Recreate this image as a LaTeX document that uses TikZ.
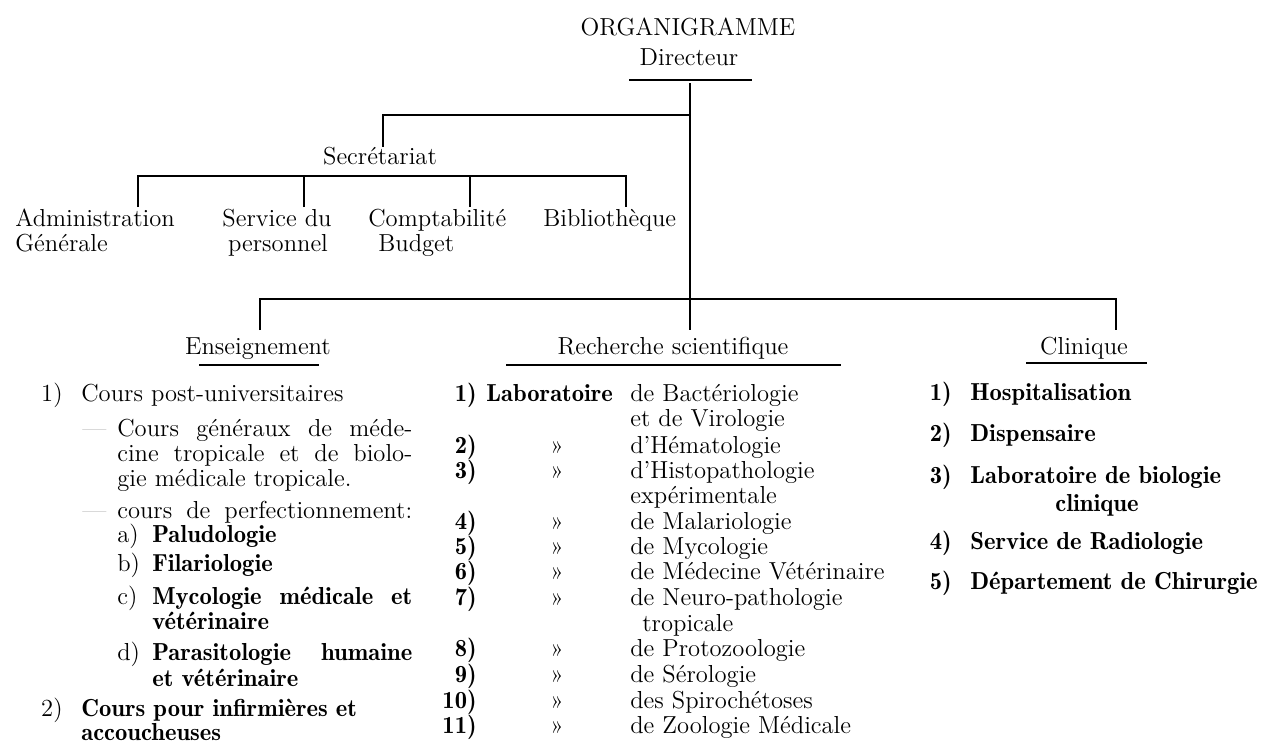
\documentclass[tikz,border=0pt]{standalone}
\usepackage{fontspec}
\newfontfamily\demifont{lmromandemi10-regular.otf}[Ligatures=TeX]

\newcommand\orgsize{\fontsize{14}{16}\selectfont}
\newcommand\spread[2]{\makebox[#1][s]{#2}}

\tikzset{
  every node/.style={inner sep=0pt, font=\orgsize},
  lft/.style={anchor=base west},
  rgt/.style={anchor=base east},
  mid/.style={anchor=base},
  heavy/.style={font=\demifont\orgsize},
  tiret/.style={anchor=base west, text=gray!60},
  conn/.style={line width=1.1pt},
  uline/.style={line width=1.6pt},
}

\begin{document}
\begin{tikzpicture}[x=0.02cm, y=-0.02cm]
\useasboundingbox (0,0) rectangle (1267,744);

% head
\node[mid] (title) at (688,35) {ORGANIGRAMME};
\node[mid] (dir)   at (689,65) {Directeur};
\draw[uline] (629,80) -- (752,80);

% secretariat
\node[mid] (sec)  at (380,164) {Secrétariat};
\node[lft] (adm)  at (15,226)  {Administration};
\node[lft] (adm2) at (15,251)  {Générale};
\node[mid] (pers) at (277,226) {Service du};
\node[mid] (pers2) at (278,251) {personnel};
\node[lft] (comp) at (368,226) {Comptabilité};
\node[lft] (comp2) at (378,251) {Budget};
\node[lft] (bib)  at (543,226) {Bibliothèque};

% the three departments
\node[mid] (ens)  at (258,354)  {Enseignement};
\draw[uline] (199,365) -- (319,365);
\node[mid] (rech) at (673,354)  {Recherche scientifique};
\draw[uline] (506,365) -- (841,365);
\node[mid] (clin) at (1084,354) {Clinique};
\draw[uline] (1026,363) -- (1147,363);

% connectors
\coordinate (trunktop) at (690,83);
\coordinate (secjct)   at (690,115);
\coordinate (secup)    at (383,147);
\coordinate (rechtop)  at (690,330);
\coordinate (sbar)     at (0,176);
\coordinate (admtop)   at (138,207);
\coordinate (perstop)  at (304,207);
\coordinate (comptop)  at (470,207);
\coordinate (bibtop)   at (626,207);
\coordinate (mbar)     at (0,299);
\coordinate (enstop)   at (260,330);
\coordinate (clintop)  at (1116,330);

\draw[conn] (trunktop) -- (rechtop);
\draw[conn] (secjct) -| (secup);
\draw[conn] (admtop) -- (admtop |- sbar) -- (bibtop |- sbar) -- (bibtop);
\draw[conn] (perstop) -- (perstop |- sbar);
\draw[conn] (comptop) -- (comptop |- sbar);
\draw[conn] (enstop) -- (enstop |- mbar) -- (clintop |- mbar) -- (clintop);

% Enseignement
\node[rgt] (e1)  at (63,401)  {1)};
\node[lft] (e1t) at (81,401)  {Cours post-universitaires};
\node[tiret] (ta) at (82,436) {—};
\node[lft] (ga)  at (117,436) {\spread{5.9cm}{Cours généraux de méde-}};
\node[lft] (gb)  at (117,461) {\spread{5.9cm}{cine tropicale et de biolo-}};
\node[lft] (gc)  at (117,486) {gie médicale tropicale.};
\node[tiret] (tb) at (82,518) {—};
\node[lft] (pf)  at (117,518) {\spread{5.9cm}{cours de perfectionnement:}};
\node[lft] (la)  at (117,542) {a)};
\node[lft,heavy] (pa) at (152,542) {Paludologie};
\node[lft] (lb)  at (117,571) {b)};
\node[lft,heavy] (pb) at (152,571) {Filariologie};
\node[lft] (lc)  at (117,604) {c)};
\node[lft,heavy] (pc) at (152,604) {\spread{5.2cm}{Mycologie médicale et}};
\node[lft,heavy] (pc2) at (152,629) {vétérinaire};
\node[lft] (ld)  at (117,660) {d)};
\node[lft,heavy] (pd) at (152,660) {\spread{5.2cm}{Parasitologie humaine}};
\node[lft,heavy] (pd2) at (152,686) {et vétérinaire};
\node[rgt] (e2)  at (63,716)  {2)};
\node[lft,heavy] (e2t) at (81,716) {Cours pour infirmières et};
\node[lft,heavy] (e2u) at (81,740) {accoucheuses};

% Recherche scientifique
\node[rgt,heavy] (r1) at (477,401) {1)};
\node[lft,heavy] (lab) at (486,401) {Laboratoire};
\node[lft] (r1t) at (630,401) {de Bactériologie};
\node[lft] (r1u) at (630,426) {et de Virologie};
\node[rgt,heavy] (r2) at (477,453) {2)};
\node[mid] (q2) at (557,453) {»};
\node[lft] (r2t) at (630,453) {d’Hématologie};
\node[rgt,heavy] (r3) at (477,478) {3)};
\node[mid] (q3) at (557,478) {»};
\node[lft] (r3t) at (630,478) {d’Histopathologie};
\node[lft] (r3u) at (630,503) {expérimentale};
\node[rgt,heavy] (r4) at (477,529) {4)};
\node[mid] (q4) at (557,529) {»};
\node[lft] (r4t) at (630,529) {de Malariologie};
\node[rgt,heavy] (r5) at (477,554) {5)};
\node[mid] (q5) at (557,554) {»};
\node[lft] (r5t) at (630,554) {de Mycologie};
\node[rgt,heavy] (r6) at (477,579) {6)};
\node[mid] (q6) at (557,579) {»};
\node[lft] (r6t) at (630,579) {de Médecine Vétérinaire};
\node[rgt,heavy] (r7) at (477,605) {7)};
\node[mid] (q7) at (557,605) {»};
\node[lft] (r7t) at (630,605) {de Neuro-pathologie};
\node[lft] (r7u) at (642,631) {tropicale};
\node[rgt,heavy] (r8) at (477,656) {8)};
\node[mid] (q8) at (557,656) {»};
\node[lft] (r8t) at (630,656) {de Protozoologie};
\node[rgt,heavy] (r9) at (477,682) {9)};
\node[mid] (q9) at (557,682) {»};
\node[lft] (r9t) at (630,682) {de Sérologie};
\node[rgt,heavy] (r10) at (477,708) {10)};
\node[mid] (q10) at (557,708) {»};
\node[lft] (r10t) at (630,708) {des Spirochétoses};
\node[rgt,heavy] (r11) at (477,733) {11)};
\node[mid] (q11) at (557,733) {»};
\node[lft] (r11t) at (630,733) {de Zoologie Médicale};

% Clinique
\node[rgt,heavy] (c1) at (952,400) {1)};
\node[lft,heavy] (c1t) at (970,400) {Hospitalisation};
\node[rgt,heavy] (c2) at (952,441) {2)};
\node[lft,heavy] (c2t) at (970,441) {Dispensaire};
\node[rgt,heavy] (c3) at (952,483) {3)};
\node[lft,heavy] (c3t) at (970,483) {Laboratoire de biologie};
\node[mid,heavy] (c3u) at (1097,511) {clinique};
\node[rgt,heavy] (c4) at (952,549) {4)};
\node[lft,heavy] (c4t) at (970,549) {Service de Radiologie};
\node[rgt,heavy] (c5) at (952,589) {5)};
\node[lft,heavy] (c5t) at (970,589) {Département de Chirurgie};
\end{tikzpicture}
\end{document}
